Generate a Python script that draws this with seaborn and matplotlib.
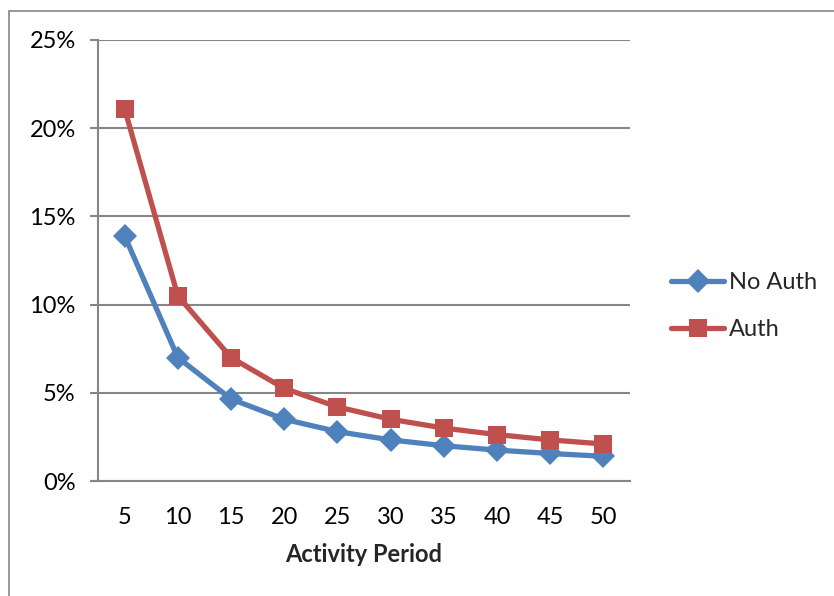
import matplotlib
matplotlib.use("Agg")
import matplotlib.pyplot as plt
from matplotlib.lines import Line2D
from matplotlib.ticker import PercentFormatter
import seaborn as sns
import pandas as pd

# Activity period categories and attack success rates (%)
periods = [5, 10, 15, 20, 25, 30, 35, 40, 45, 50]
no_auth = [13.9, 7.0, 4.65, 3.5, 2.8, 2.33, 2.0, 1.75, 1.56, 1.4]
auth = [21.1, 10.5, 7.0, 5.25, 4.2, 3.5, 3.0, 2.63, 2.33, 2.1]
y_ticks = [0, 5, 10, 15, 20, 25]

series_names = ["No Auth", "Auth"]
colors = {"No Auth": "#4F81BD", "Auth": "#C0504D"}
markers = {"No Auth": "D", "Auth": "s"}
marker_sizes = {"No Auth": 12.5, "Auth": 13}

FS = 17

df = pd.DataFrame({
    "pos": list(range(len(periods))) * 2,
    "value": no_auth + auth,
    "series": ["No Auth"] * len(periods) + ["Auth"] * len(periods),
})

sns.set_theme(style="white")
plt.rcParams["font.family"] = ["Lato", "DejaVu Sans"]

fig = plt.figure(figsize=(8.34, 5.96), dpi=100)
ax = fig.add_axes([98 / 834, 1 - 481 / 596, 532 / 834, 441 / 596])

for name in series_names:
    sub = df[df["series"] == name]
    sns.lineplot(data=sub, x="pos", y="value", ax=ax, color=colors[name],
                 linewidth=3.8, marker=markers[name],
                 markersize=marker_sizes[name], markeredgewidth=0,
                 legend=False, zorder=3)

ax.set_xlim(-0.5, len(periods) - 0.5)
ax.set_ylim(0, 25)
ax.set_xticks(range(len(periods)))
ax.set_xticklabels([str(p) for p in periods])
ax.set_yticks(y_ticks)
ax.yaxis.set_major_formatter(PercentFormatter(decimals=0))
ax.tick_params(axis="both", labelsize=FS, colors="black")
ax.tick_params(axis="y", length=6, width=1.5, color="#868686", pad=10, left=True)
ax.tick_params(axis="x", length=0, pad=19)

ax.grid(axis="y", color="#868686", linewidth=1.5)
ax.set_axisbelow(True)
for side in ["top", "right"]:
    ax.spines[side].set_visible(False)
for side in ["left", "bottom"]:
    ax.spines[side].set_color("#868686")
    ax.spines[side].set_linewidth(1.5)
ax.spines["bottom"].set_bounds(-0.5 - 6 / 53, len(periods) - 0.5)

ax.set_xlabel("Activity Period", fontsize=FS, fontweight="bold", labelpad=10.5)
ax.set_ylabel("")

handles = [Line2D([0], [0], color=colors[n], linewidth=3.8, marker=markers[n],
                  markersize=marker_sizes[n], markeredgewidth=0)
           for n in series_names]
fig.legend(handles, series_names, loc="center left",
           bbox_to_anchor=(650 / 834, 1 - 306 / 596), frameon=False,
           fontsize=FS, handlelength=2.25, handletextpad=0.2,
           labelspacing=1.1)

# Outer chart border (partially visible)
fig.add_artist(Line2D([9 / 834, 9 / 834], [0, 1 - 11 / 596],
                      transform=fig.transFigure, color="#868686", linewidth=1.2))
fig.add_artist(Line2D([9 / 834, 1], [1 - 11 / 596, 1 - 11 / 596],
                      transform=fig.transFigure, color="#868686", linewidth=1.2))

fig.savefig("out.png", dpi=100, facecolor="white")
